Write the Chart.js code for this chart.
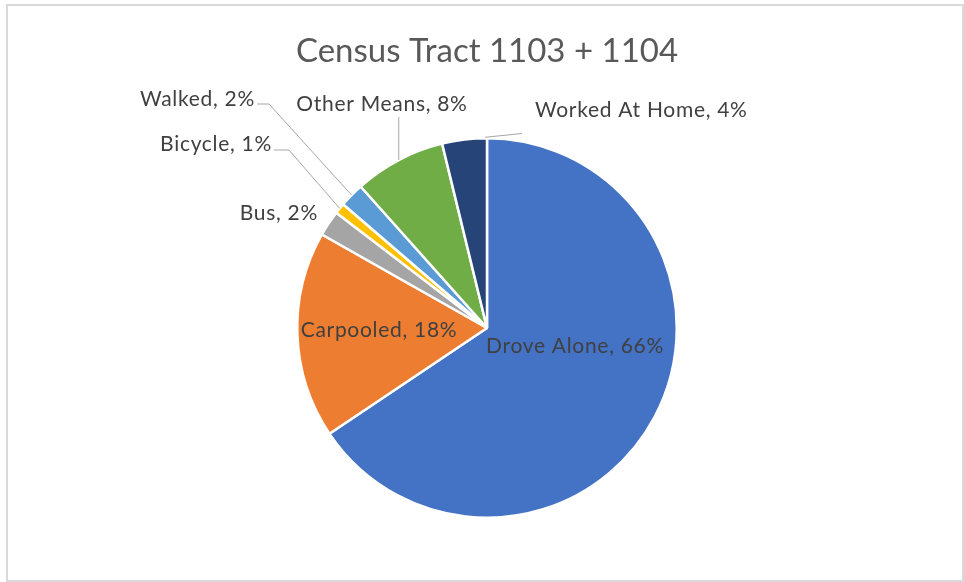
<!DOCTYPE html>
<html>
<head>
<meta charset="utf-8">
<script src="https://cdn.jsdelivr.net/npm/chart.js@4/dist/chart.umd.min.js"></script>
<style>
  html, body { margin: 0; padding: 0; background: #ffffff; }
  canvas { display: block; }
</style>
</head>
<body>
<canvas id="c" width="964" height="582"></canvas>
<script>
// ---- data ----
const chartTitle = "Census Tract 1103 + 1104";
const categories = ["Drove Alone", "Carpooled", "Bus", "Bicycle", "Walked", "Other Means", "Worked At Home"];
const shares = [65.6, 17.6, 2.2, 0.9, 2.1, 7.8, 3.8];
const sliceColors = ["#4472C4", "#ED7D31", "#A5A5A5", "#FFC000", "#5B9BD5", "#70AD47", "#264478"];

// ---- label layout (positions relative to pie centre, px) ----
const labelLayout = [
  { align: "center", dx: 88, dy: 18 },
  { align: "center", dx: -108, dy: 2 },
  { align: "right", dx: -169, dy: -114.5 },
  { align: "right", dx: -215, dy: -184, leader: "elbow", lx: 2, ly: 6, ex: 15 },
  { align: "right", dx: -232, dy: -229, leader: "elbow", lx: 2, ly: 5, ex: 12 },
  { align: "center", dx: -105, dy: -224, leader: "vertical", top: -211 },
  { align: "left", dx: 48, dy: -218, leader: "end", lx: 35, ly: -194.5 }
];

const total = shares.reduce((a, b) => a + b, 0);

const labelPlugin = {
  id: "labelPlugin",
  beforeDraw(chart) {
    const ctx = chart.ctx;
    ctx.save();
    ctx.fillStyle = "#ffffff";
    ctx.fillRect(0, 0, chart.width, chart.height);
    ctx.strokeStyle = "#d9d9d9";
    ctx.lineWidth = 2;
    ctx.strokeRect(7, 5, 956, 576);
    ctx.restore();
  },
  afterDraw(chart) {
    const ctx = chart.ctx;
    const meta = chart.getDatasetMeta(0);
    const first = meta.data[0];
    const cx = first.x, cy = first.y;
    const R = first.outerRadius;
    ctx.save();
    // title
    ctx.fillStyle = "#595959";
    ctx.font = "33px Lato, 'Open Sans', sans-serif";
    ctx.textAlign = "center";
    ctx.textBaseline = "middle";
    ctx.fillText(chartTitle, cx, 51);

    ctx.font = "21px Lato, 'Open Sans', sans-serif";
    try { ctx.letterSpacing = "0.7px"; } catch (e) {}
    meta.data.forEach((arc, i) => {
      const L = labelLayout[i];
      const pct = Math.round(shares[i] / total * 100);
      const text = categories[i] + ", " + pct + "%";
      const tx = cx + L.dx, ty = cy + L.dy;
      const mid = (arc.startAngle + arc.endAngle) / 2;
      const px = cx + Math.cos(mid) * R;
      const py = cy + Math.sin(mid) * R;
      ctx.strokeStyle = "#a6a6a6";
      ctx.lineWidth = 1;
      if (L.leader === "elbow") {
        const sx = tx + L.lx, sy = ty + L.ly;
        ctx.beginPath();
        ctx.moveTo(sx, sy);
        ctx.lineTo(sx + L.ex, sy);
        ctx.lineTo(px, py);
        ctx.stroke();
      } else if (L.leader === "vertical") {
        ctx.beginPath();
        ctx.moveTo(px, cy + L.top);
        ctx.lineTo(px, py);
        ctx.stroke();
      } else if (L.leader === "end") {
        const a = arc.endAngle - 0.01;
        ctx.beginPath();
        ctx.moveTo(cx + Math.cos(a) * (R + 1), cy + Math.sin(a) * (R + 1));
        ctx.lineTo(cx + L.lx, cy + L.ly);
        ctx.stroke();
      }
      ctx.fillStyle = "#404040";
      ctx.textAlign = L.align;
      ctx.textBaseline = "middle";
      ctx.fillText(text, tx, ty);
    });
    ctx.restore();
  }
};

new Chart(document.getElementById("c"), {
  type: "pie",
  data: {
    labels: categories,
    datasets: [{
      data: shares,
      backgroundColor: sliceColors,
      borderColor: "#ffffff",
      borderWidth: 2.5
    }]
  },
  options: {
    responsive: false,
    animation: false,
    devicePixelRatio: 1,
    layout: { padding: { top: 137, bottom: 63, left: 100, right: 90 } },
    plugins: {
      legend: { display: false },
      title: { display: false },
      tooltip: { enabled: false }
    }
  },
  plugins: [labelPlugin]
});
</script>
</body>
</html>
